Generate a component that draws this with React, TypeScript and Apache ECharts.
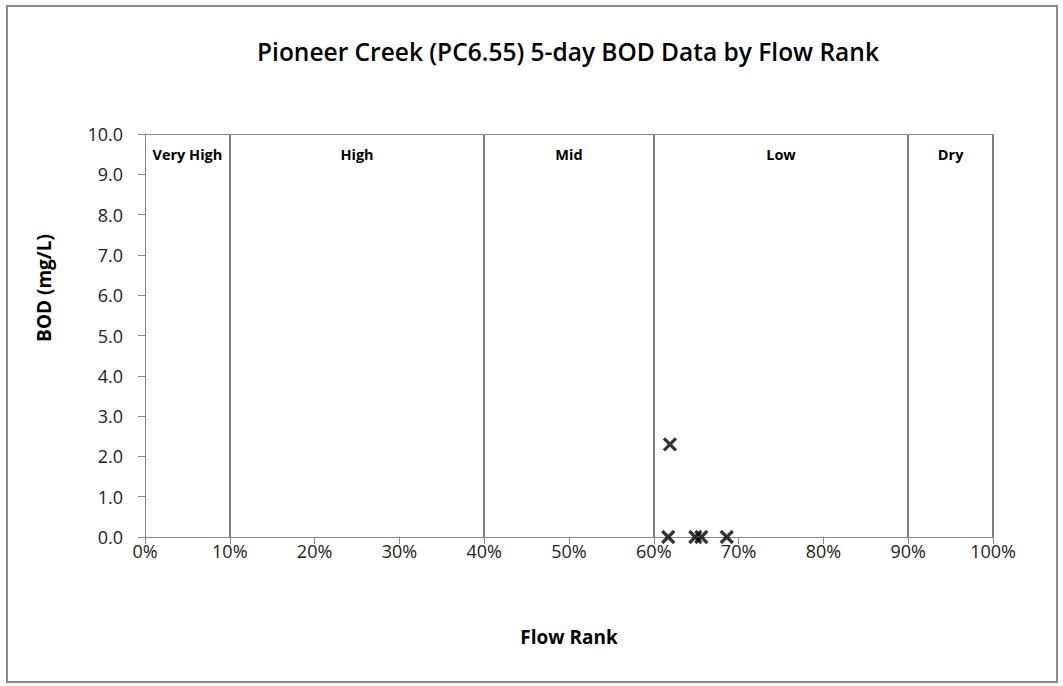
import React, { useEffect, useRef } from "react";
import * as echarts from "echarts";

const title = "Pioneer Creek (PC6.55) 5-day BOD Data by Flow Rank";
const xAxisName = "Flow Rank";
const yAxisName = "BOD (mg/L)";
const flowRank = [61.9, 61.7, 64.9, 65.6, 68.6];
const bod = [2.3, 0.0, 0.0, 0.0, 0.0];
const zoneNames = ["Very High", "High", "Mid", "Low", "Dry"];
const zoneBounds = [0, 10, 40, 60, 90, 100];

export default function App() {
  const ref = useRef<HTMLDivElement>(null);
  useEffect(() => {
    document.body.style.margin = "0";
    const chart = echarts.init(ref.current!, null, { renderer: "svg" });
    const font = "Open Sans, Noto Sans, sans-serif";
    const points = flowRank.map((x, i) => [x, bod[i]]);
    const areas = zoneNames.map((name, i) => [
      { xAxis: zoneBounds[i], yAxis: 10, name },
      { xAxis: zoneBounds[i + 1], yAxis: 0 },
    ]);
    const vlines = zoneBounds.slice(1).map((b) => ({ xAxis: b }));
    chart.setOption({
      animation: false,
      backgroundColor: "#fff",
      title: {
        text: title,
        left: 252,
        top: 34,
        textStyle: { fontFamily: font, fontSize: 24.5, fontWeight: 600, color: "#000" },
      },
      graphic: [
        {
          type: "rect",
          shape: { x: 7, y: 6, width: 1050, height: 676 },
          style: { fill: "none", stroke: "#8a8a8a", lineWidth: 2 },
          silent: true,
        },
        {
          type: "text",
          x: 44,
          y: 288,
          rotation: Math.PI / 2,
          style: {
            text: yAxisName,
            fontFamily: font,
            fontSize: 19,
            fontWeight: "bold",
            fill: "#000",
            align: "center",
            verticalAlign: "middle",
          },
          silent: true,
        },
      ],
      grid: { left: 145, right: 70, top: 134, bottom: 149 },
      xAxis: {
        type: "value",
        min: 0,
        max: 100,
        interval: 10,
        name: xAxisName,
        nameLocation: "middle",
        nameGap: 90,
        nameTextStyle: { fontFamily: font, fontSize: 19, fontWeight: "bold", color: "#000" },
        axisLine: { lineStyle: { color: "#888" } },
        axisTick: { show: true, inside: false, length: 7, lineStyle: { color: "#888" } },
        axisLabel: { formatter: (v: number) => v + "%", fontFamily: font, fontSize: 18, color: "#222", margin: 5 },
        splitLine: { show: false },
      },
      yAxis: {
        type: "value",
        min: 0,
        max: 10,
        interval: 1,
        axisLine: { show: true, lineStyle: { color: "#888" } },
        axisTick: { show: true, inside: false, length: 7, lineStyle: { color: "#888" } },
        axisLabel: { formatter: (v: number) => v.toFixed(1), fontFamily: font, fontSize: 18, color: "#222", margin: 22 },
        splitLine: { show: false },
      },
      series: [
        {
          type: "scatter",
          data: points,
          symbol: "path://M0,0L10,10M10,0L0,10",
          symbolSize: 12,
          itemStyle: { color: "none", borderColor: "#000", borderWidth: 3.2 },
          markArea: {
            silent: true,
            itemStyle: { color: "rgba(0,0,0,0)" },
            label: {
              show: true,
              position: "insideTop",
              distance: 13,
              fontFamily: font,
              fontSize: 14.5,
              fontWeight: "bold",
              color: "#000",
            },
            data: areas,
          },
          markLine: {
            silent: true,
            symbol: "none",
            label: { show: false },
            lineStyle: { color: "#7f7f7f", width: 2, type: "solid" },
            data: [...vlines, { yAxis: 10, lineStyle: { color: "#888", width: 1 } }],
          },
        },
      ],
    });
    return () => chart.dispose();
  }, []);
  return <div ref={ref} style={{ width: 1063, height: 686 }} />;
}
